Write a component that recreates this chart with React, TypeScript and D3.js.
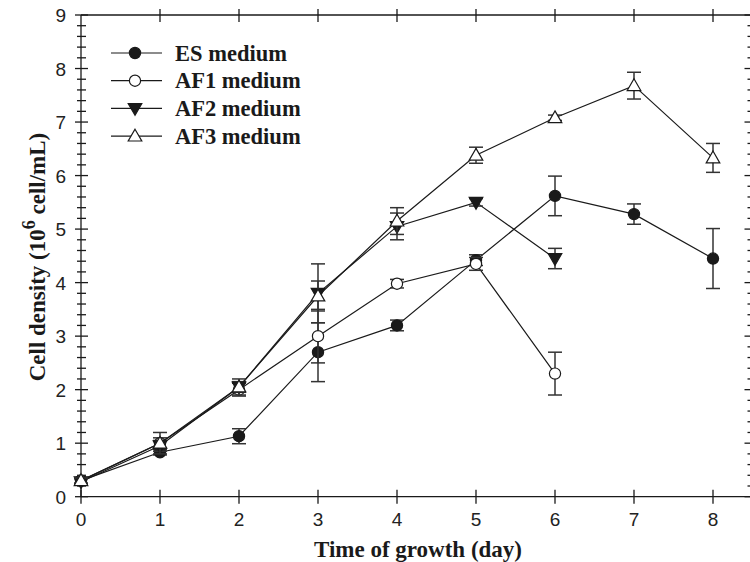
import { useEffect, useRef } from 'react';
import * as d3 from 'd3';

const days = [0, 1, 2, 3, 4, 5, 6, 7, 8];

const esMean = [0.3, 0.83, 1.13, 2.7, 3.2, 4.42, 5.62, 5.28, 4.45];
const esErr = [0.05, 0.05, 0.14, 0.55, 0.1, 0.1, 0.37, 0.19, 0.56];
const af1Mean = [0.3, 1.0, 2.0, 3.0, 3.98, 4.35, 2.3];
const af1Err = [0.05, 0.1, 0.12, 0.5, 0.08, 0.12, 0.4];
const af2Mean = [0.28, 0.95, 2.05, 3.8, 5.05, 5.5, 4.45];
const af2Err = [0.05, 0.1, 0.1, 0.55, 0.25, 0.07, 0.19];
const af3Mean = [0.3, 1.0, 2.05, 3.75, 5.15, 6.38, 7.08, 7.68, 6.33];
const af3Err = [0.05, 0.2, 0.15, 0.28, 0.25, 0.15, 0.05, 0.25, 0.27];

const seriesNames = ['ES medium', 'AF1 medium', 'AF2 medium', 'AF3 medium'];
const xTicks = [0, 1, 2, 3, 4, 5, 6, 7, 8];
const yTicks = [0, 1, 2, 3, 4, 5, 6, 7, 8, 9];

type Marker = 'circleFilled' | 'circleOpen' | 'triDown' | 'triUp';
type Pt = { x: number; y: number; e: number };

const W = 750;
const H = 562;
const INK = '#1a1a1a';

function drawMarker(g: d3.Selection<SVGGElement, unknown, null, undefined>, kind: Marker, cx: number, cy: number) {
  if (kind === 'circleFilled' || kind === 'circleOpen') {
    g.append('circle')
      .attr('cx', cx)
      .attr('cy', cy)
      .attr('r', 5.6)
      .attr('fill', kind === 'circleFilled' ? INK : '#fff')
      .attr('stroke', INK)
      .attr('stroke-width', 1.2);
  } else {
    const sym = d3.symbol(d3.symbolTriangle, 80)();
    g.append('path')
      .attr('d', sym)
      .attr('transform', `translate(${cx},${cy + (kind === 'triUp' ? 1 : -1)}) rotate(${kind === 'triDown' ? 180 : 0})`)
      .attr('fill', kind === 'triDown' ? INK : '#fff')
      .attr('stroke', INK)
      .attr('stroke-width', 1.2);
  }
}

export default function App() {
  const svgRef = useRef<SVGSVGElement>(null);

  useEffect(() => {
    const svg = d3.select(svgRef.current);
    svg.selectAll('*').remove();

    const x = d3.scaleLinear().domain([0, 8.5]).range([81, 752.5]);
    const y = d3.scaleLinear().domain([0, 9]).range([496.7, 15]);
    const x0 = x(0);
    const x1 = x(8.5);
    const y0 = y(0);
    const y1 = y(9);

    const axes = svg.append('g').attr('stroke', INK).attr('stroke-width', 1.3);
    // frame lines
    axes.append('line').attr('x1', x0).attr('x2', x1).attr('y1', y0).attr('y2', y0);
    axes.append('line').attr('x1', x0).attr('x2', x1).attr('y1', y1).attr('y2', y1);
    axes.append('line').attr('x1', x0).attr('x2', x0).attr('y1', y0).attr('y2', y1);
    axes.append('line').attr('x1', x1).attr('x2', x1).attr('y1', y0).attr('y2', y1);

    // x ticks (bottom + top, crossing)
    xTicks.forEach(t => {
      axes.append('line').attr('x1', x(t)).attr('x2', x(t)).attr('y1', y0 - 7).attr('y2', y0 + 7);
      if (t > 0) axes.append('line').attr('x1', x(t)).attr('x2', x(t)).attr('y1', y1 - 6).attr('y2', y1 + 7);
    });

    // y ticks: major + minor on left (crossing), inward on right
    d3.range(0, 9.001, 0.2).forEach(v => {
      const major = Math.abs(v - Math.round(v)) < 1e-6;
      const yy = y(v);
      axes.append('line')
        .attr('x1', x0 - (major ? 6 : 4))
        .attr('x2', x0 + (major ? 7 : 5))
        .attr('y1', yy)
        .attr('y2', yy);
      axes.append('line')
        .attr('x1', x1 - (major ? 8 : 5))
        .attr('x2', x1)
        .attr('y1', yy)
        .attr('y2', yy);
    });

    const tickFont = "'Liberation Sans', Arial, sans-serif";
    svg.append('g')
      .selectAll('text')
      .data(xTicks)
      .join('text')
      .attr('x', d => x(d))
      .attr('y', 526)
      .attr('text-anchor', 'middle')
      .attr('font-family', tickFont)
      .attr('font-size', 19)
      .attr('fill', '#222')
      .text(d => d);
    svg.append('g')
      .selectAll('text')
      .data(yTicks)
      .join('text')
      .attr('x', 66)
      .attr('y', d => y(d) + 7)
      .attr('text-anchor', 'end')
      .attr('font-family', tickFont)
      .attr('font-size', 19)
      .attr('fill', '#222')
      .text(d => d);

    const titleFont = "'Liberation Serif', 'Times New Roman', serif";
    svg.append('text')
      .attr('x', 418)
      .attr('y', 557)
      .attr('text-anchor', 'middle')
      .attr('font-family', titleFont)
      .attr('font-weight', 'bold')
      .attr('font-size', 23)
      .attr('fill', INK)
      .text('Time of growth (day)');

    const yt = svg.append('text')
      .attr('transform', 'translate(45,257) rotate(-90)')
      .attr('text-anchor', 'middle')
      .attr('font-family', titleFont)
      .attr('font-weight', 'bold')
      .attr('font-size', 23)
      .attr('fill', INK);
    yt.append('tspan').text('Cell density (10');
    yt.append('tspan').attr('dy', -10).attr('font-size', 18).text('6');
    yt.append('tspan').attr('dy', 10).text(' cell/mL)');

    const series: { pts: Pt[]; marker: Marker }[] = [
      { pts: esMean.map((v, i) => ({ x: days[i], y: v, e: esErr[i] })), marker: 'circleFilled' },
      { pts: af1Mean.map((v, i) => ({ x: days[i], y: v, e: af1Err[i] })), marker: 'circleOpen' },
      { pts: af2Mean.map((v, i) => ({ x: days[i], y: v, e: af2Err[i] })), marker: 'triDown' },
      { pts: af3Mean.map((v, i) => ({ x: days[i], y: v, e: af3Err[i] })), marker: 'triUp' },
    ];

    const line = d3.line<Pt>().x(d => x(d.x)).y(d => y(d.y));
    const plot = svg.append('g');
    series.forEach(s => {
      const g = plot.append('g');
      g.append('path')
        .datum(s.pts)
        .attr('d', line)
        .attr('fill', 'none')
        .attr('stroke', INK)
        .attr('stroke-width', 1.2);
      s.pts.forEach(p => {
        const cx = x(p.x);
        const eb = g.append('g').attr('stroke', '#333').attr('stroke-width', 1.5);
        eb.append('line').attr('x1', cx).attr('x2', cx).attr('y1', y(p.y - p.e)).attr('y2', y(p.y + p.e));
        [p.y - p.e, p.y + p.e].forEach(v => {
          eb.append('line').attr('x1', cx - 7).attr('x2', cx + 7).attr('y1', y(v)).attr('y2', y(v));
        });
        drawMarker(g, s.marker, cx, y(p.y));
      });
    });

    // legend
    const legend = svg.append('g');
    seriesNames.forEach((name, i) => {
      const ly = 53 + i * 27.7;
      legend.append('line')
        .attr('x1', 111)
        .attr('x2', 162)
        .attr('y1', ly)
        .attr('y2', ly)
        .attr('stroke', INK)
        .attr('stroke-width', 1.2);
      drawMarker(legend, series[i].marker, 135, ly);
      legend.append('text')
        .attr('x', 175)
        .attr('y', ly + 7.5)
        .attr('font-family', titleFont)
        .attr('font-weight', 'bold')
        .attr('font-size', 22.5)
        .attr('fill', INK)
        .text(name);
    });
  }, []);

  return (
    <svg
      ref={svgRef}
      width={W}
      height={H}
      style={{ position: 'absolute', left: 0, top: 0, background: '#fff' }}
    />
  );
}
